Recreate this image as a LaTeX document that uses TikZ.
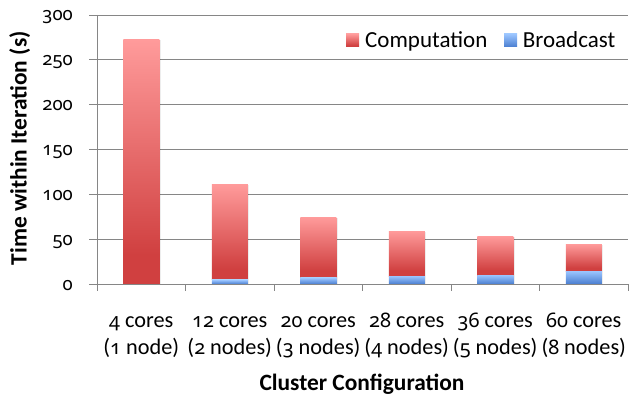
\documentclass[tikz,border=0pt]{standalone}
\usepackage{fontspec}
\setmainfont{Carlito}
\newfontfamily\numf{Noto Sans}[Numbers=OldStyle]
\newcommand\od[1]{{\numf\fontsize{20}{27}\selectfont #1}}
\definecolor{gridc}{RGB}{134,134,134}
\definecolor{rlt}{RGB}{255,155,155}
\definecolor{rdk}{RGB}{208,64,64}
\definecolor{blt}{RGB}{155,197,255}
\definecolor{bdk}{RGB}{74,126,208}
\pgfdeclareverticalshading{redsh}{100bp}{color(0bp)=(rdk); color(25bp)=(rdk); color(31bp)=(rdk); color(75bp)=(rlt); color(100bp)=(rlt)}
\pgfdeclareverticalshading{bluesh}{100bp}{color(0bp)=(bdk); color(25bp)=(bdk); color(75bp)=(blt); color(100bp)=(blt)}
\begin{document}
\begin{tikzpicture}[x=1pt,y=-1pt,
  gridline/.style={draw=gridc,line width=0.9pt},
  ticklab/.style={inner sep=0pt,anchor=base east,font=\numf\fontsize{18.5}{24}\selectfont},
  catlab/.style={inner sep=0pt,anchor=base,font=\fontsize{22.3}{27}\selectfont},
  legtext/.style={inner sep=0pt,anchor=base west,font=\fontsize{23}{28}\selectfont},
  axtitle/.style={inner sep=0pt,anchor=base,font=\bfseries\fontsize{23.4}{28}\selectfont},
  compbar/.style={shade,shading=redsh},
  bcbar/.style={shade,shading=bluesh},
  barshadow/.style={fill=black,fill opacity=0.07}]
\useasboundingbox (0,0) rectangle (629,396);
% gridlines and y labels
\foreach \v in {0,50,...,300}{
  \pgfmathsetmacro\yy{284-0.89667*\v}
  \draw[gridline] (89,\yy) -- (628,\yy);
  \node[ticklab] (yl\v) at (73,\yy+6) {\v};
}
% bars
\foreach \k/\tot/\bc in {0/273/0,1/111.5/4.5,2/74.7/6.7,3/59.1/8.9,4/53.5/10,5/44.6/14.5}{
  \pgfmathsetmacro\cx{141.25+88.5*\k}
  \pgfmathsetmacro\yt{284-0.89667*\tot}
  \pgfmathsetmacro\yb{284-0.89667*\bc}
  \fill[barshadow] (\cx-18+1.5,\yt+1) rectangle (\cx+18+1.5,284);
  \path[compbar] (\cx-18,\yt) rectangle (\cx+18,\yb);
  \ifdim\bc pt>0pt
    \path[bcbar] (\cx-18,\yb) rectangle (\cx+18,284);
  \fi
}
% axes
\draw[gridline] (89,284) -- (628,284);
\draw[gridline] (97,15) -- (97,291);
\foreach \k in {1,...,6}{
  \draw[gridline] (97+88.5*\k,284) -- ++(0,7);
}
% category labels
\foreach \k/\la/\lb in {0/{\od{4} cores}/{(\od{1} node)},1/{\od{12} cores}/{(\od{2} nodes)},2/{\od{20} cores}/{(\od{3} nodes)},3/{\od{28} cores}/{(\od{4} nodes)},4/{\od{36} cores}/{(\od{5} nodes)},5/{\od{60} cores}/{(\od{8} nodes)}}{
  \pgfmathsetmacro\cx{141.25+88.5*\k}
  \node[catlab] (xa\k) at (\cx,327) {\la};
  \node[catlab] (xb\k) at (\cx,354) {\lb};
}
% legend
\path[compbar] (346,34) rectangle (359,47);
\node[legtext] (lcomp) at (365,47.5) {Computation};
\path[bcbar] (504,34) rectangle (517,47);
\node[legtext] (lbc) at (522.7,47.5) {Broadcast};
% axis titles
\node[axtitle] (xtitle) at (362,390) {Cluster Configuration};
\node[axtitle,rotate=90] (ytitle) at (26.7,148.3) {Time within Iteration (s)};
\end{tikzpicture}
\end{document}
